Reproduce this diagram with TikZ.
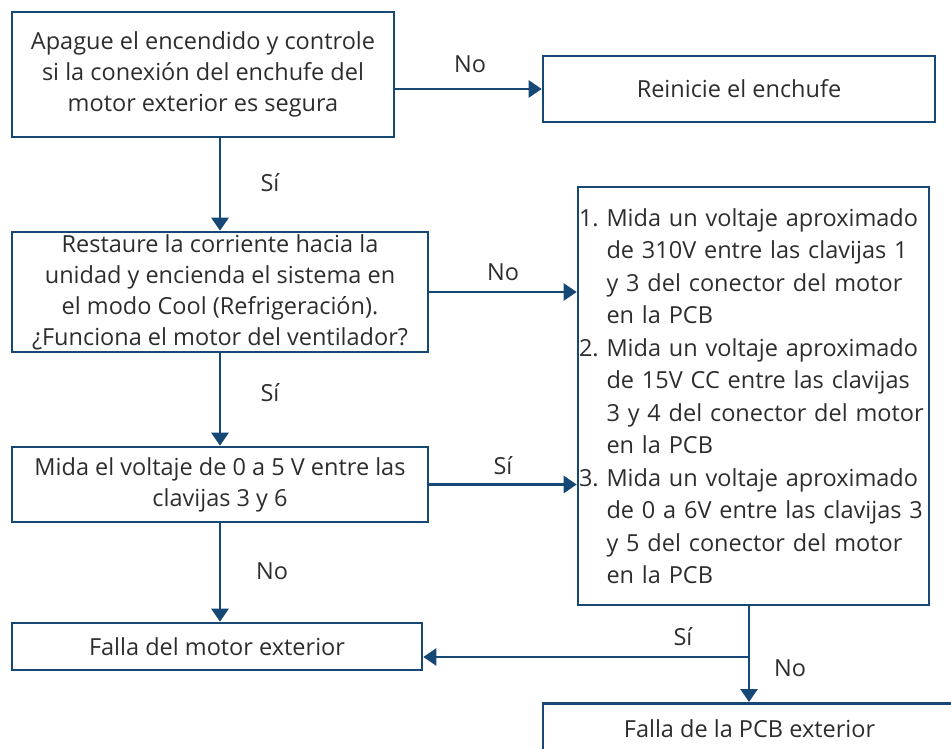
\documentclass[tikz,border=0pt]{standalone}
\usepackage{fontspec}
\setmainfont{Open Sans}
\usetikzlibrary{arrows.meta}
\definecolor{flujoazul}{RGB}{22,72,117}
\definecolor{textogris}{RGB}{45,45,45}
\tikzset{
  caja/.style={draw=flujoazul, line width=2.6pt, text=textogris, align=center,
    inner sep=0pt, font=\fontsize{23.5}{31}\selectfont},
  flecha/.style={draw=flujoazul, line width=2.6pt, -{Triangle[length=13pt,width=17pt]}},
  linea/.style={draw=flujoazul, line width=2.6pt},
  etiq/.style={text=textogris, font=\fontsize{23.5}{31}\selectfont}
}
\newcommand{\sangria}{\phantom{1.\ }}
\begin{document}
\begin{tikzpicture}[x=1pt, y=-1pt, line cap=butt, line join=miter]
  \useasboundingbox (0,0) rectangle (951,749);
  \clip (0,0) rectangle (951,749);
  % cajas
  \node[caja, minimum width=382pt, minimum height=125pt] (apague) at (203,74.5)
    {Apague el encendido y controle\\si la conexión del enchufe del\\motor exterior es segura};
  \node[caja, minimum width=392pt, minimum height=66pt] (reinicie) at (739,89)
    {Reinicie el enchufe};
  \node[caja, minimum width=416pt, minimum height=120pt] (restaure) at (220,292)
    {Restaure la corriente hacia la\\unidad y encienda el sistema en\\el modo Cool (Refrigeración).\\¿Funciona el motor del ventilador?};
  \node[caja, align=left, minimum width=351pt, minimum height=418pt, text width=349pt, inner sep=1pt,
    font=\fontsize{23.5}{32.5}\selectfont] (pasos) at (753.5,396)
    {1.\ Mida un voltaje aproximado\\\sangria de 310V entre las clavijas 1\\\sangria y 3 del conector del motor\\\sangria en la PCB\\
     2.\ Mida un voltaje aproximado\\\sangria de 15V CC entre las clavijas\\\sangria 3 y 4 del conector del motor\\\sangria en la PCB\\
     3.\ Mida un voltaje aproximado\\\sangria de 0 a 6V entre las clavijas 3\\\sangria y 5 del conector del motor\\\sangria en la PCB};
  \node[caja, minimum width=416pt, minimum height=75pt] (mida) at (220,484.5)
    {Mida el voltaje de 0 a 5 V entre las\\clavijas 3 y 6};
  \node[caja, minimum width=410pt, minimum height=47pt] (fallamotor) at (217,646.5)
    {Falla del motor exterior};
  \node[caja, minimum width=413pt, minimum height=50pt, anchor=north] (fallapcb) at (749.5,702)
    {Falla de la PCB exterior};
  \coordinate (cruce) at (749,657);
  % conectores
  \draw[flecha] (apague.east |- reinicie.west) -- (reinicie.west);
  \draw[flecha] (apague.south -| restaure.north) -- (restaure.north);
  \draw[flecha] (restaure.east) -- (restaure.east -| pasos.west);
  \draw[flecha] (restaure.south) -- (mida.north);
  \draw[flecha] (mida.east) -- (mida.east -| pasos.west);
  \draw[flecha] (mida.south) -- (mida.south |- fallamotor.north);
  \draw[linea] (pasos.south -| cruce) -- (cruce);
  \draw[flecha] (cruce) -- (fallamotor.east |- cruce);
  \draw[flecha] (cruce) -- (cruce |- fallapcb.north);
  % etiquetas
  \node[etiq] (no1) at (470,64) {No};
  \node[etiq] (si1) at (270,183) {Sí};
  \node[etiq] (no2) at (503,272) {No};
  \node[etiq] (si2) at (270,393) {Sí};
  \node[etiq] (si3) at (503,466) {Sí};
  \node[etiq] (no3) at (272,571) {No};
  \node[etiq] (si4) at (683,637) {Sí};
  \node[etiq] (no4) at (790,668) {No};
\end{tikzpicture}
\end{document}
